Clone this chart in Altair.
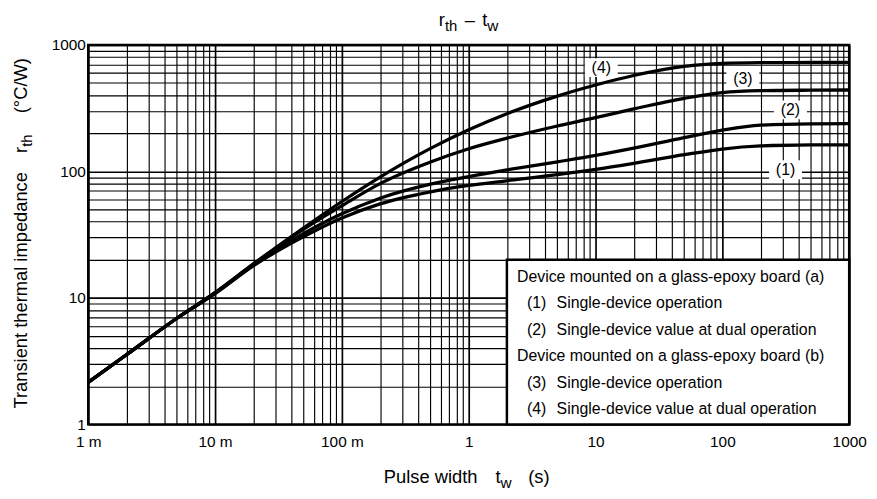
import altair as alt
import pandas as pd

# ---------------- data ----------------
pulse_width_s = [0.001, 0.002, 0.005, 0.01, 0.02, 0.05, 0.1, 0.2, 0.5, 1, 2, 5,
                 10, 20, 50, 100, 200, 500, 1000]
rth_1 = [2.15, 3.55, 6.9, 10.8, 17.9, 30.5, 42.8, 55.4, 69.0, 77.6, 84.3, 94.2,
         103.7, 115.8, 135.5, 150.3, 158.8, 161.8, 162.2]
rth_2 = [2.15, 3.55, 6.9, 10.9, 18.2, 32.3, 46.2, 61.4, 79.3, 91.0, 102.8, 119.0,
         133.6, 152.5, 185.0, 212.0, 232.0, 237.7, 238.2]
rth_3 = [2.15, 3.55, 6.9, 11.0, 18.5, 35.0, 53.5, 80.0, 118.6, 151.0, 183.0, 228.6,
         266.0, 312.0, 378.0, 420.0, 434.5, 438.5, 440.0]
rth_4 = [2.15, 3.55, 6.9, 11.0, 18.5, 35.8, 57.8, 90.2, 152.0, 213.6, 286.0, 394.0,
         482.0, 573.0, 676.0, 713.0, 723.0, 726.0, 726.0]
curve_ids = ["(1)", "(2)", "(3)", "(4)"]

label_text = ["(1)", "(2)", "(3)", "(4)"]
label_t = [315, 344, 145, 11.1]
label_r = [103, 306, 536, 662]

x_tick_values = [0.001, 0.01, 0.1, 1, 10, 100, 1000]
x_tick_labels = ["1 m", "10 m", "100 m", "1", "10", "100", "1000"]
y_tick_values = [1, 10, 100, 1000]
y_tick_labels = ["1", "10", "100", "1000"]
minor_multipliers = [1, 2, 3, 4, 5, 6, 7, 8, 9]

legend_num = ["", "(1)", "(2)", "", "(3)", "(4)"]
legend_text = [
    "Device mounted on a glass-epoxy board (a)",
    "Single-device operation",
    "Single-device value at dual operation",
    "Device mounted on a glass-epoxy board (b)",
    "Single-device operation",
    "Single-device value at dual operation",
]
legend_box_t = [2, 1000]
legend_box_r = [1, 20]

FONT = "Liberation Sans, Arial, Helvetica, sans-serif"

# ---------------- tables ----------------
rows = []
for cid, vals in zip(curve_ids, [rth_1, rth_2, rth_3, rth_4]):
    for t, r in zip(pulse_width_s, vals):
        rows.append({"t": t, "r": r, "curve": cid})
curves_df = pd.DataFrame(rows)

labels_df = pd.DataFrame({"t": label_t, "r": label_r, "text": label_text})
box_df = pd.DataFrame({"t0": [legend_box_t[0]], "t1": [legend_box_t[1]],
                       "r0": [legend_box_r[0]], "r1": [legend_box_r[1]]})


def grid_values(decades):
    vals = []
    for d in decades[:-1]:
        vals += [m * d for m in minor_multipliers]
    vals.append(decades[-1])
    return vals


def label_expr(values, labels):
    expr = "''"
    for v, lab in reversed(list(zip(values, labels))):
        expr = f"abs(datum.value/{v}-1)<1e-6 ? '{lab}' : ({expr})"
    return expr


def decade_test(values):
    return " || ".join(f"abs(datum.value/{v}-1)<1e-6" for v in values)


axis_common = dict(
    grid=True, ticks=False, tickSize=0, domain=False, title=None,
    labelFont=FONT, labelFontSize=15.5, labelColor="black",
    gridColor="black", gridOpacity=1, labelOverlap=False, labelFlush=False,
)

x_scale = alt.Scale(type="log", domain=[0.001, 1000], nice=False)
y_scale = alt.Scale(type="log", domain=[1, 1000], nice=False)
x_axis = alt.Axis(
    values=grid_values(x_tick_values),
    labelExpr=label_expr(x_tick_values, x_tick_labels),
    gridWidth={"condition": {"test": decade_test(x_tick_values), "value": 1.7}, "value": 1.15},
    labelPadding=10, labelAngle=0, **axis_common)
y_axis = alt.Axis(
    values=grid_values(y_tick_values),
    labelExpr=label_expr(y_tick_values, y_tick_labels),
    gridWidth={"condition": {"test": decade_test(y_tick_values), "value": 1.7}, "value": 1.15},
    labelPadding=3, **axis_common)


def X(field):
    return alt.X(field, type="quantitative", scale=x_scale, axis=x_axis)


def Y(field):
    return alt.Y(field, type="quantitative", scale=y_scale, axis=y_axis)


curves = alt.Chart(curves_df).mark_line(
    color="black", strokeWidth=3.3, interpolate="monotone", clip=True
).encode(x=X("t"), y=Y("r"), detail="curve:N")

legend_box = alt.Chart(box_df).mark_rect(
    fill="white", stroke="black", strokeWidth=2.5
).encode(x=X("t0"), x2="t1", y=Y("r0"), y2="r1")

label_boxes = alt.Chart(labels_df).mark_point(
    shape="M-1.75,-1L1.75,-1L1.75,1L-1.75,1Z", size=361, filled=True,
    color="white", opacity=1, strokeOpacity=0
).encode(x=X("t"), y=Y("r"))

label_marks = alt.Chart(labels_df).mark_text(
    font=FONT, fontSize=16, color="black", align="center", baseline="middle"
).encode(x=X("t"), y=Y("r"), text="text:N")

layers = [curves, legend_box, label_boxes, label_marks]


def text_piece(text, x, y, size, angle=0, align="left", baseline="alphabetic"):
    kw = dict(font=FONT, fontSize=size, color="black", align=align, baseline=baseline)
    if angle:
        kw["angle"] = angle
    return alt.Chart(pd.DataFrame({"s": [text]})).mark_text(**kw).encode(
        text="s:N", x=alt.value(x), y=alt.value(y))


# legend lines (pixel positions inside the plot area)
for i, (num, txt) in enumerate(zip(legend_num, legend_text)):
    base = 239.3 + 26.7 * i
    if num:
        layers.append(text_piece(num, 442.7, base, 16))
        layers.append(text_piece(txt, 472.7, base, 16))
    else:
        layers.append(text_piece(txt, 432.7, base, 16))

# chart title  r_th – t_w
layers += [
    text_piece("r", 353.7, -18.7, 18.5),
    text_piece("th", 360.0, -13.7, 15),
    text_piece("\u2013", 380.0, -18.7, 18.5),
    text_piece("t", 397.7, -18.7, 18.5),
    text_piece("w", 402.8, -13.7, 15.5),
]

# x-axis title  Pulse width  t_w  (s)
layers += [
    text_piece("Pulse width", 298.3, 442.0, 18.5),
    text_piece("t", 411.0, 442.0, 18.5),
    text_piece("w", 416.2, 447.0, 15.5),
    text_piece("(s)", 444.0, 442.0, 18.5),
]

# y-axis title  Transient thermal impedance  r_th  (°C/W)
layers += [
    text_piece("Transient thermal impedance", -62, 367, 18.5, angle=270),
    text_piece("r", -62, 109, 18.5, angle=270),
    text_piece("th", -57, 102.8, 15, angle=270),
    text_piece("(\u00b0C/W)", -62, 69, 18.5, angle=270),
]

chart = alt.layer(*layers).properties(
    width=768, height=383,
    autosize=alt.AutoSizeParams(type="none"),
    padding={"left": 81, "top": 35, "right": 20, "bottom": 65},
    background="white",
).configure_view(stroke="black", strokeWidth=2.5)

chart.save("out.html", embed_options={"renderer": "svg", "actions": False})
